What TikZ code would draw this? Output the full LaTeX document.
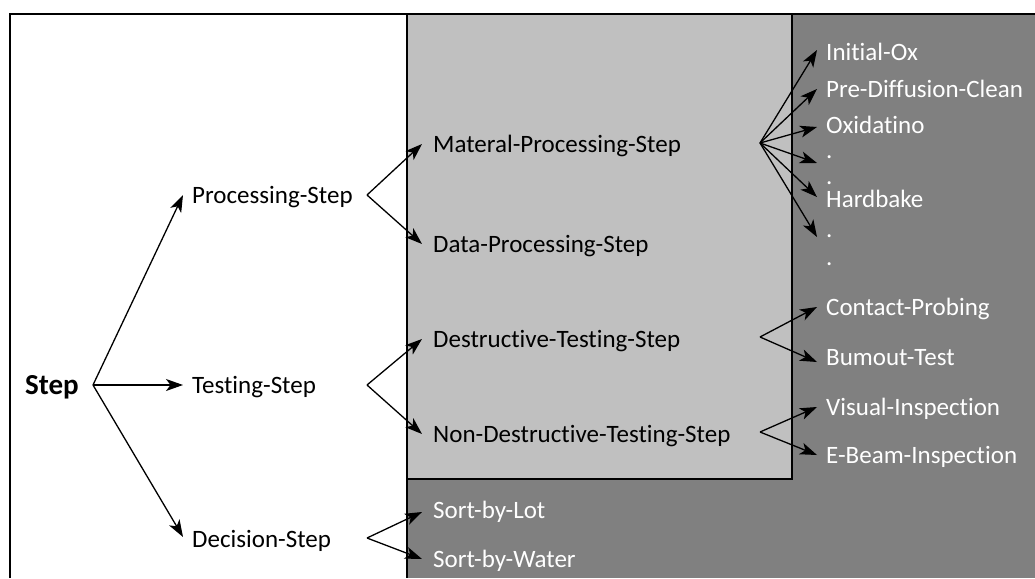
\documentclass[tikz,border=0pt]{standalone}
\usepackage{fontspec}
\setmainfont{Carlito}[Ligatures={NoCommon,NoContextual}]
\usetikzlibrary{arrows.meta}
\definecolor{darkgr}{HTML}{808080}
\definecolor{lightgr}{HTML}{C0C0C0}
\begin{document}
\begin{tikzpicture}[x=1pt,y=-1pt,
  lbl/.style={anchor=base west, inner sep=0pt, text height=16pt, text depth=0pt, font=\fontsize{25}{30}\selectfont},
  lblw/.style={lbl, text=white},
  arr/.style={line width=1.3pt, -{Stealth[length=17pt,width=12pt,inset=4.5pt]}},
  frame/.style={line width=1.5pt}]
\useasboundingbox (0,0) rectangle (1035,578);
\fill[white] (0,0) rectangle (1035,578);
\fill[darkgr] (407,14) rectangle (1035,578);
\filldraw[fill=lightgr, frame] (407,14) rectangle (792,479);
\draw[frame] (10,578) -- (10,14) -- (1035,14);
\draw[frame] (407,14) -- (407,578);

% level 0
\node[anchor=base west, inner sep=0pt, font=\fontsize{29}{33}\selectfont\bfseries] (step) at (25,394) {Step};
% level 1
\node[lbl] (proc) at (192,203) {Processing-Step};
\node[lbl] (test) at (192,393) {Testing-Step};
\node[lbl] (dec) at (192,547) {Decision-Step};
% level 2
\node[lbl] (mat) at (433,152) {Materal-Processing-Step};
\node[lbl] (data) at (433,252) {Data-Processing-Step};
\node[lbl] (dest) at (433,347) {Destructive-Testing-Step};
\node[lbl] (ndest) at (433,442) {Non-Destructive-Testing-Step};
\node[lblw] (lot) at (433,518) {Sort-by-Lot};
\node[lblw] (water) at (433,567) {Sort-by-Water};
% level 3
\node[lblw] (iox) at (826,60) {Initial-Ox};
\node[lblw] (pdc) at (826,97) {Pre-Diffusion-Clean};
\node[lblw] (oxi) at (826,133) {Oxidatino};
\node[lblw] (d1) at (826,158) {.};
\node[lblw] (d2) at (826,184) {.};
\node[lblw] (hb) at (826,207) {Hardbake};
\node[lblw] (d3) at (826,237) {.};
\node[lblw] (d4) at (826,265) {.};
\node[lblw] (cp) at (826,315) {Contact-Probing};
\node[lblw] (bt) at (826,365) {Bumout-Test};
\node[lblw] (vi) at (826,415) {Visual-Inspection};
\node[lblw] (eb) at (826,463) {E-Beam-Inspection};

% fan origins
\coordinate (fS) at (93,385);
\coordinate (fP) at (367,195);
\coordinate (fT) at (367,385);
\coordinate (fD) at (367,538);
\coordinate (fM) at (760,143);
\coordinate (fDT) at (760,337);
\coordinate (fND) at (760,432);

% arrows
\draw[arr] (fS) -- ([xshift=-9pt]proc.west);
\draw[arr] (fS) -- ([xshift=-9pt]test.west);
\draw[arr] (fS) -- ([xshift=-9pt,yshift=2pt]dec.west);

\draw[arr] (fP) -- ([xshift=-11pt]mat.west);
\draw[arr] (fP) -- ([xshift=-11pt]data.west);
\draw[arr] (fT) -- ([xshift=-11pt]dest.west);
\draw[arr] (fT) -- ([xshift=-11pt]ndest.west);
\draw[arr] (fD) -- ([xshift=-11pt,yshift=-2pt]lot.west);
\draw[arr] (fD) -- ([xshift=-11pt]water.west);

\draw[arr] (fM) -- ([xshift=-9pt,yshift=2pt]iox.west);
\draw[arr] (fM) -- ([xshift=-9pt]pdc.west);
\draw[arr] (fM) -- ([xshift=-9pt,yshift=-2pt]oxi.west);
\draw[arr] (fM) -- ([xshift=-9pt,yshift=-13pt]d1.west);
\draw[arr] (fM) -- ([xshift=-9pt,yshift=2pt]hb.west);
\draw[arr] (fM) -- ([xshift=-9pt,yshift=-8pt]d3.west);

\draw[arr] (fDT) -- ([xshift=-9pt]cp.west);
\draw[arr] (fDT) -- ([xshift=-9pt,yshift=-5pt]bt.west);
\draw[arr] (fND) -- ([xshift=-9pt]vi.west);
\draw[arr] (fND) -- ([xshift=-9pt]eb.west);
\end{tikzpicture}
\end{document}
